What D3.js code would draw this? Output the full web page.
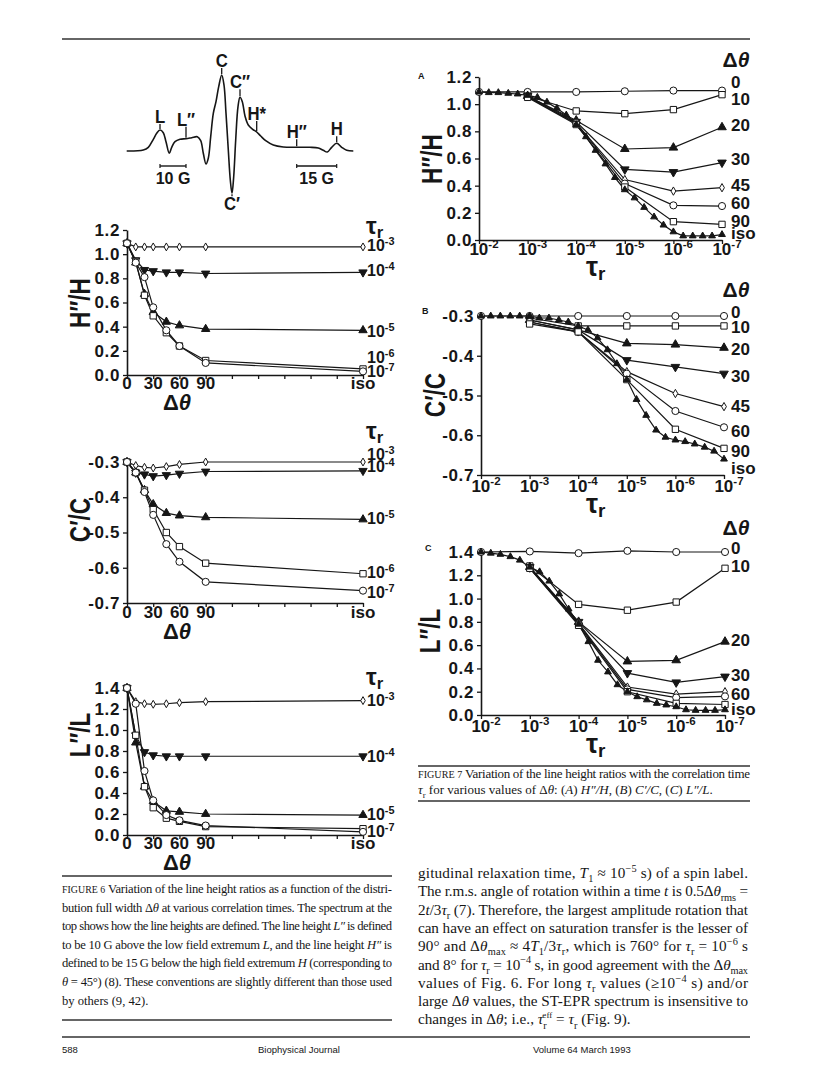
<!DOCTYPE html>
<html><head><meta charset="utf-8">
<script src="https://cdn.jsdelivr.net/npm/d3@7/dist/d3.min.js"></script>
<style>
html,body{margin:0;padding:0;background:#fff;}
svg{display:block;}
</style></head><body>
<svg id="page" width="816" height="1076" xmlns="http://www.w3.org/2000/svg"></svg>
<script>
// ================= DATA =================
// Spectrum (field in arbitrary G-like units, signal in arbitrary units)
const specField = [16.7,33.3,38.3,43.3,46.7,50,53.3,56,59.3,61.7,65,70,76,81.7,87.3,90.7,93.3,96,98.3,100.7,103.3,106,108.7,111.7,114,116,118.3,120.3,122,123.7,125.7,128,130,132.3,135,138.3,142.7,146.7,150.7,155.7,163.3,173.3,186.7,200,208.3,213.3,217.3,221.7,226.7,231.7,236.7,243.3];
const specSignal = [0,1,3.7,11.7,17.7,21,18.3,9.3,-2.3,3.7,9.3,11.7,12.3,13.3,14.3,10.3,-2.3,-13,-7.3,14.3,37.7,49.3,64.3,76,66,37.7,1,-29,-42.3,-25.7,11,44.3,53.7,49.3,35,26,21.7,19,15,10.3,6,4,3.7,3.7,3,0.7,-1,3.7,7.7,3.7,0.7,0];
const specLabels = ["L","L″","C","C″","H*","H″","H","C′"];
const specLabelField = [50,76,111.7,130,146.7,186.7,226.7,122];
const specBars = [["10 G",50,76],["15 G",186.7,226.7]];

// Figure 6: ratios vs distribution width
const f6Angles = [0,10,20,30,45,60,90,"iso"];
const f6AngleTicks = [0,30,60,90,120,150,180,210,240,270];
const f6AngleTickLabels = ["0","30","60","90","","","","","","iso"];
const f6TauExp = ["-3","-4","-5","-6","-7"];
const f6HH = [
  [1.09,1.06,1.06,1.06,1.06,1.06,1.06,1.06],
  [1.09,0.95,0.87,0.86,0.85,0.85,0.84,0.85],
  [1.09,0.93,0.67,0.52,0.44,0.41,0.38,0.37],
  [1.09,0.94,0.66,0.49,0.35,0.24,0.12,0.05],
  [1.09,0.93,0.81,0.56,0.37,0.24,0.10,0.03]
];
const f6CC = [
  [-0.30,-0.31,-0.315,-0.317,-0.313,-0.307,-0.30,-0.30],
  [-0.30,-0.33,-0.335,-0.34,-0.337,-0.333,-0.327,-0.325],
  [-0.30,-0.33,-0.38,-0.42,-0.445,-0.452,-0.457,-0.463],
  [-0.30,-0.33,-0.38,-0.435,-0.50,-0.54,-0.587,-0.617],
  [-0.30,-0.33,-0.385,-0.45,-0.533,-0.583,-0.64,-0.665]
];
const f6LL = [
  [1.40,1.27,1.25,1.245,1.25,1.26,1.27,1.28],
  [1.40,0.95,0.79,0.76,0.75,0.75,0.75,0.75],
  [1.40,0.88,0.46,0.32,0.23,0.22,0.20,0.19],
  [1.40,0.95,0.46,0.26,0.16,0.13,0.08,0.06],
  [1.40,1.25,0.61,0.33,0.19,0.14,0.09,0.03]
];
const f6YTicksHH = [0,0.2,0.4,0.6,0.8,1.0,1.2];
const f6YTicksCC = [-0.7,-0.6,-0.5,-0.4,-0.3];
const f6YTicksLL = [0,0.2,0.4,0.6,0.8,1.0,1.2,1.4];

// Figure 7: ratios vs correlation time
const f7Tau = [1e-2,1e-3,1e-4,1e-5,1e-6,1e-7];
const f7TauTickExp = ["-2","-3","-4","-5","-6","-7"];
const f7Delta = ["0","10","20","30","45","60","90","iso"];
const f7TauIso = [1e-2,6.3e-3,4e-3,2.5e-3,1.6e-3,1e-3,6.3e-4,4e-4,2.5e-4,1.6e-4,1e-4,6.3e-5,4e-5,2.5e-5,1.6e-5,1e-5,6.3e-6,4e-6,2.5e-6,1.6e-6,1e-6,6.3e-7,4e-7,2.5e-7,1.6e-7,1e-7];
const f7A = [
  [1.09,1.09,1.09,1.095,1.10,1.10],
  [null,1.06,0.95,0.93,0.96,1.07],
  [null,1.06,0.88,0.67,0.68,0.83],
  [null,1.06,0.87,0.52,0.50,0.57],
  [null,1.055,0.86,0.445,0.36,0.385],
  [null,1.055,0.86,0.415,0.255,0.25],
  [null,1.05,0.85,0.39,0.135,0.115]
];
const f7AIso = [1.09,1.085,1.085,1.08,1.075,1.065,1.05,1.015,0.97,0.92,0.85,0.76,0.66,0.56,0.46,0.37,0.31,0.24,0.17,0.11,0.06,0.03,0.03,0.03,0.03,0.04];
const f7B = [
  [-0.30,-0.30,-0.30,-0.30,-0.30,-0.30],
  [null,-0.305,-0.325,-0.325,-0.325,-0.325],
  [null,-0.31,-0.335,-0.369,-0.372,-0.38],
  [null,-0.31,-0.335,-0.411,-0.428,-0.445],
  [null,-0.315,-0.34,-0.44,-0.495,-0.528],
  [null,-0.315,-0.34,-0.445,-0.539,-0.58],
  [null,-0.32,-0.34,-0.46,-0.585,-0.633]
];
const f7BIso = [-0.30,-0.30,-0.30,-0.30,-0.30,-0.30,-0.305,-0.305,-0.31,-0.315,-0.325,-0.335,-0.355,-0.385,-0.42,-0.46,-0.51,-0.55,-0.587,-0.605,-0.612,-0.616,-0.622,-0.63,-0.64,-0.66];
const f7C = [
  [1.40,1.405,1.39,1.41,1.40,1.40],
  [null,1.28,0.95,0.90,0.97,1.26],
  [null,1.27,0.80,0.46,0.47,0.63],
  [null,1.27,0.80,0.36,0.28,0.33],
  [null,1.265,0.79,0.24,0.18,0.20],
  [null,1.26,0.78,0.22,0.15,0.16],
  [null,1.26,0.77,0.20,0.10,0.09]
];
const f7CIso = [1.40,1.39,1.38,1.36,1.33,1.27,1.23,1.15,1.04,0.91,0.78,0.63,0.47,0.37,0.26,0.20,0.157,0.13,0.10,0.086,0.071,0.045,0.04,0.04,0.04,0.045];
const f7YTicksA = [0,0.2,0.4,0.6,0.8,1.0,1.2];
const f7YTicksB = [-0.7,-0.6,-0.5,-0.4,-0.3];
const f7YTicksC = [0,0.2,0.4,0.6,0.8,1.0,1.2,1.4];

// Text
const cap6 = [
  [["FIGURE 6","sc"],["  Variation of the line height ratios as a function of the distri-"]],
  [["bution full width Δ"],["θ","i"],[" at various correlation times. The spectrum at the"]],
  [["top shows how the line heights are defined. The line height "],["L″","i"],[" is defined"]],
  [["to be 10 G above the low field extremum "],["L","i"],[", and the line height "],["H″","i"],[" is"]],
  [["defined to be 15 G below the high field extremum "],["H","i"],[" (corresponding to"]],
  [["θ","i"],[" = 45°) (8). These conventions are slightly different than those used"]],
  [["by others (9, 42)."]]
];
const cap7 = [
  [["FIGURE 7","sc"],["  Variation of the line height ratios with the correlation time"]],
  [["τ","i"],["r","sub"],[" for various values of Δ"],["θ","i"],[": ("],["A","i"],[") "],["H″/H","i"],[", ("],["B","i"],[") "],["C′/C","i"],[", ("],["C","i"],[") "],["L″/L","i"],["."]]
];
const body = [
  [["gitudinal relaxation time, "],["T","i"],["1","sub"],[" ≈ 10"],["−5","sup"],[" s) of a spin label."]],
  [["The r.m.s. angle of rotation within a time "],["t","i"],[" is 0.5Δ"],["θ","i"],["rms","sub"],[" ="]],
  [["2"],["t","i"],["/3"],["τ","i"],["r","sub"],[" (7). Therefore, the largest amplitude rotation that"]],
  [["can have an effect on saturation transfer is the lesser of"]],
  [["90° and Δ"],["θ","i"],["max","sub"],[" ≈ 4"],["T","i"],["1","sub"],["/3"],["τ","i"],["r","sub"],[", which is 760° for "],["τ","i"],["r","sub"],[" = 10"],["−6","sup"],[" s"]],
  [["and 8° for "],["τ","i"],["r","sub"],[" = 10"],["−4","sup"],[" s, in good agreement with the Δ"],["θ","i"],["max","sub"]],
  [["values of Fig. 6. For long "],["τ","i"],["r","sub"],[" values (≥10"],["−4","sup"],[" s) and/or"]],
  [["large Δ"],["θ","i"],[" values, the ST-EPR spectrum is insensitive to"]],
  [["changes in Δ"],["θ","i"],["; i.e., "],["τ","i"],["r","sub"],["eff","supb"],[" = "],["τ","i"],["r","sub"],[" (Fig. 9)."]]
];
const footer = [["588",62],["Biophysical Journal",258],["Volume 64   March 1993",533]];

// ================= LAYOUT / STYLE =================
const INK = "#161616";
const SANS = "'Liberation Sans', Arial, Helvetica, sans-serif";
const SERIF = "'Liberation Serif', 'Times New Roman', Times, serif";
const svg = d3.select("#page");

function rich(sel, segs, size) {
  let shift = 0;
  segs.forEach(([t, k]) => {
    const ts = sel.append("tspan").text(t);
    let target = 0, fs = size;
    if (k === "sub") { target = size * 0.28; fs = size * 0.68; }
    if (k === "sup") { target = -size * 0.4; fs = size * 0.68; }
    if (k === "supb") { target = -size * 0.4; fs = size * 0.6; ts.attr("dx", -size*0.28); }
    if (k === "sc") { fs = size * 0.78; ts.attr("letter-spacing", 0.3); }
    if (k === "i") ts.attr("font-style", "italic");
    ts.attr("font-size", fs);
    if (target !== shift) { ts.attr("dy", target - shift); shift = target; }
  });
}
function boldText(x, y, segs, size, anchor) {
  const t = svg.append("text").attr("x", x).attr("y", y)
    .attr("font-family", SANS).attr("font-weight", "bold").attr("fill", INK)
    .attr("font-size", size).attr("text-anchor", anchor || "start");
  rich(t, segs, size);
  return t;
}
function tauLabel(x, y, size, anchor) {
  const t = svg.append("text").attr("x", x).attr("y", y)
    .attr("font-family", SANS).attr("font-weight", "bold").attr("fill", INK)
    .attr("text-anchor", anchor || "start");
  t.append("tspan").attr("font-size", size).text("τ");
  t.append("tspan").attr("font-size", size * 0.7).attr("dy", size * 0.16).text("r");
}
function deltaTheta(x, y, size, anchor) {
  const t = svg.append("text").attr("x", x).attr("y", y)
    .attr("font-family", SANS).attr("font-weight", "bold").attr("fill", INK)
    .attr("font-size", size).attr("text-anchor", anchor || "middle");
  t.append("tspan").text("Δ");
  t.append("tspan").attr("font-style", "italic").text("θ");
}
function yTitle(cx, cy, label) {
  svg.append("text").attr("transform", `translate(${cx},${cy}) rotate(-90) scale(0.78,1)`)
    .attr("text-anchor", "middle").attr("dominant-baseline", "central")
    .attr("font-family", SANS).attr("font-weight", "bold").attr("font-size", 29).attr("fill", INK)
    .text(label);
}
const fmt1 = v => d3.format(".1f")(v).replace("−", "-");

const symType = {circle: d3.symbolCircle, square: d3.symbolSquare, up: d3.symbolTriangle, down: d3.symbolTriangle, diamond: d3.symbolDiamond};
function markers(g, pts, kind, filled, size) {
  g.selectAll(null).data(pts).join("path")
    .attr("d", d3.symbol(symType[kind], size)())
    .attr("transform", p => `translate(${p[0]},${p[1]})` + (kind === "down" ? " rotate(180)" : ""))
    .attr("fill", filled ? INK : "#fff").attr("stroke", INK).attr("stroke-width", 1);
}
function styleAxis(g, fs) {
  g.attr("font-family", SANS).attr("font-weight", "bold").attr("font-size", fs);
  g.select(".domain").attr("stroke", INK).attr("stroke-width", 1.6);
  g.selectAll(".tick line").attr("stroke", INK).attr("stroke-width", 1.3);
  g.selectAll(".tick text").attr("fill", INK);
}

// Rules
function rule(x1, x2, y, w) {
  svg.append("line").attr("x1", x1).attr("x2", x2).attr("y1", y).attr("y2", y)
    .attr("stroke", "#333").attr("stroke-width", w || 1.4);
}
rule(62, 750, 39, 1.4);

// ================= SPECTRUM =================
(function () {
  const xs = d3.scaleLinear().domain([0, 280]).range([110, 390]);
  const ys = d3.scaleLinear().domain([0, 100]).range([151, 51]);
  const pts = specField.map((f, i) => [f, specSignal[i]]);
  svg.append("path").attr("d", d3.line().x(d => xs(d[0])).y(d => ys(d[1])).curve(d3.curveCatmullRom.alpha(0.5))(pts))
    .attr("fill", "none").attr("stroke", INK).attr("stroke-width", 1.6);
  const interp = f => { const i = d3.bisectLeft(specField, f); if (i <= 0) return specSignal[0];
    const t = (f - specField[i-1]) / (specField[i] - specField[i-1]); return specSignal[i-1] + t * (specSignal[i] - specSignal[i-1]); };
  const tickLen = [5, 11, 6, 7, 10, 7, 6, 2];
  specLabels.forEach((lab, i) => {
    const x = xs(specLabelField[i]), yc = ys(interp(specLabelField[i]));
    const below = lab === "C′";
    const y1 = below ? yc + 1 : yc - 1, y2 = below ? yc + 1 + tickLen[i] : yc - 1 - tickLen[i];
    svg.append("line").attr("x1", x).attr("x2", x).attr("y1", y1).attr("y2", y2).attr("stroke", INK).attr("stroke-width", 1.3);
    svg.append("text").attr("x", x).attr("y", below ? y2 + 14 : y2 - 1)
      .attr("text-anchor", "middle").attr("font-family", SANS).attr("font-weight", "bold")
      .attr("font-size", 19).attr("fill", INK)
      .attr("transform", `translate(${x},0) scale(0.88,1) translate(${-x},0)`).text(lab);
  });
  specBars.forEach(([lab, a, b]) => {
    const y = 166;
    svg.append("line").attr("x1", xs(a)).attr("x2", xs(b)).attr("y1", y).attr("y2", y).attr("stroke", INK).attr("stroke-width", 1.4);
    [a, b].forEach(v => svg.append("line").attr("x1", xs(v)).attr("x2", xs(v)).attr("y1", y - 2).attr("y2", y + 2).attr("stroke", INK).attr("stroke-width", 1.2));
    svg.append("text").attr("x", (xs(a) + xs(b)) / 2).attr("y", 184).attr("text-anchor", "middle")
      .attr("font-family", SANS).attr("font-weight", "bold").attr("font-size", 16).attr("fill", INK).text(lab);
  });
})();

// ================= FIGURE 6 PANELS =================
const F6_X0 = 127, F6_X1 = 363, ISO_AT = 270;
const f6Marks = [["diamond", false, 18], ["down", true, 30], ["up", true, 30], ["square", false, 40], ["circle", false, 40]];
function fig6Panel(p) {
  const x = d3.scaleLinear().domain([0, ISO_AT]).range([F6_X0, F6_X1]);
  const y = d3.scaleLinear().domain(p.domain).range([p.yBottom, p.yTop]);
  const ax = v => x(v === "iso" ? ISO_AT : v);
  const gy = svg.append("g").attr("transform", `translate(${F6_X0},0)`)
    .call(d3.axisLeft(y).tickValues(p.ticks).tickSize(4).tickSizeOuter(0).tickPadding(3).tickFormat(fmt1));
  styleAxis(gy, 17);
  gy.selectAll(".tick text").attr("letter-spacing", 0.6);
  const gx = svg.append("g").attr("transform", `translate(0,${p.yBottom})`)
    .call(d3.axisBottom(x).tickValues(f6AngleTicks).tickSize(4).tickSizeOuter(0).tickFormat(""));
  styleAxis(gx, 17);
  f6AngleTicks.forEach((t, i) => {
    if (!f6AngleTickLabels[i]) return;
    svg.append("text").attr("x", x(t)).attr("y", p.yBottom + p.xLabDy).attr("text-anchor", "middle")
      .attr("font-family", SANS).attr("font-weight", "bold").attr("font-size", 17).attr("fill", INK)
      .text(f6AngleTickLabels[i]);
  });
  deltaTheta(177, p.yBottom + p.xLabDy + 21, 22);
  yTitle(80, p.titleY, p.title);
  const g = svg.append("g");
  p.data.forEach((vals, s) => {
    const pts = vals.map((v, i) => [ax(f6Angles[i]), y(v)]);
    g.append("path").attr("d", d3.line()(pts)).attr("fill", "none").attr("stroke", INK).attr("stroke-width", 1.2);
  });
  p.data.forEach((vals, s) => {
    const pts = vals.map((v, i) => [ax(f6Angles[i]), y(v)]);
    const [k, f, sz] = f6Marks[s];
    markers(g, pts, k, f, sz);
  });
  tauLabel(366, p.tauY, 24);
  p.labelY.forEach((ly, s) => {
    if (ly == null) return;
    boldText(367, ly + 6, [["10"], [f6TauExp[s], "sup"]], 16);
  });
}
fig6Panel({domain: [0, 1.2], yTop: 230, yBottom: 375, ticks: f6YTicksHH, data: f6HH, title: "H″/H", titleY: 303,
  xLabDy: 14, tauY: 234, labelY: [245, 270, 331, 357, 371]});
fig6Panel({domain: [-0.7, -0.3], yTop: 462, yBottom: 603, ticks: f6YTicksCC, data: f6CC, title: "C′/C", titleY: 520,
  xLabDy: 15, tauY: 439, labelY: [454, 466, 518, 572, 592]});
fig6Panel({domain: [0, 1.4], yTop: 688, yBottom: 835, ticks: f6YTicksLL, data: f6LL, title: "L″/L", titleY: 735,
  xLabDy: 14, tauY: 685, labelY: [700, 756, 814, null, 831]});

// ================= FIGURE 7 PANELS =================
const f7Marks = [["circle", false, 40], ["square", false, 40], ["up", true, 32], ["down", true, 32], ["diamond", false, 20], ["circle", false, 40], ["square", false, 40], ["up", true, 20]];
function fig7Panel(p) {
  const x = d3.scaleLog().domain([1e-2, 1e-7]).range([p.x0, p.x1]);
  const y = d3.scaleLinear().domain(p.domain).range([p.yBottom, p.yTop]);
  const gy = svg.append("g").attr("transform", `translate(${p.x0},0)`)
    .call(d3.axisLeft(y).tickValues(p.ticks).tickSize(4).tickSizeOuter(0).tickPadding(3).tickFormat(fmt1));
  styleAxis(gy, 17);
  gy.selectAll(".tick text").attr("letter-spacing", 0.6);
  const gx = svg.append("g").attr("transform", `translate(0,${p.yBottom})`)
    .call(d3.axisBottom(x).tickValues(f7Tau).tickSize(4).tickSizeOuter(0).tickFormat(""));
  styleAxis(gx, 17);
  f7Tau.forEach((t, i) => boldText(x(t) + 5, p.yBottom + p.xLabDy, [["10"], [f7TauTickExp[i], "sup"]], 17, "middle"));
  tauLabel(586, p.yBottom + p.tauDy, 27);
  yTitle(p.titleX, p.titleY, p.title);
  svg.append("text").attr("x", p.letter[0]).attr("y", p.letter[1]).attr("font-family", SANS)
    .attr("font-size", 9).attr("font-weight", "bold").attr("fill", INK).text(p.letter[2]);
  const g = svg.append("g");
  const line = d3.line().defined(d => d[1] != null).x(d => x(d[0])).y(d => y(d[1]));
  const series = p.data.map(vals => vals.map((v, i) => [f7Tau[i], v]));
  series.push(p.iso.map((v, i) => [f7TauIso[i], v]));
  series.forEach(s => g.append("path").attr("d", line(s)).attr("fill", "none").attr("stroke", INK).attr("stroke-width", 1.2));
  series.forEach((s, k) => {
    const pts = s.filter(d => d[1] != null).map(d => [x(d[0]), y(d[1])]);
    const [m, f, sz] = f7Marks[k];
    markers(g, pts, m, f, sz);
  });
  deltaTheta(736, p.headY, 21);
  p.labelY.forEach((ly, k) => {
    if (ly == null) return;
    svg.append("text").attr("x", 731).attr("y", ly + 6).attr("font-family", SANS).attr("font-weight", "bold")
      .attr("font-size", 17).attr("fill", INK).text(f7Delta[k]);
  });
}
fig7Panel({x0: 479, x1: 722, domain: [0, 1.2], yTop: 77, yBottom: 240, ticks: f7YTicksA, data: f7A, iso: f7AIso,
  xLabDy: 15, tauDy: 36, title: "H″/H", titleX: 432, titleY: 159, letter: [418, 79, "A"], headY: 67,
  labelY: [82, 99, 125, 159, 185, 203, 221, 233]});
fig7Panel({x0: 481, x1: 724, domain: [-0.7, -0.3], yTop: 316, yBottom: 475, ticks: f7YTicksB, data: f7B, iso: f7BIso,
  xLabDy: 17, tauDy: 38, title: "C′/C", titleX: 435, titleY: 395, letter: [422, 314, "B"], headY: 297,
  labelY: [312, 327, 349, 376, 406, 431, 451, 468]});
fig7Panel({x0: 481, x1: 725, domain: [0, 1.4], yTop: 552, yBottom: 715, ticks: f7YTicksC, data: f7C, iso: f7CIso,
  xLabDy: 17, tauDy: 38, title: "L″/L", titleX: 430, titleY: 631, letter: [425, 551, "C"], headY: 535,
  labelY: [548, 566, 640, 675, null, 694, null, 709]});

// ================= CAPTIONS & BODY TEXT =================
function para(lines, x, y0, lh, size, width, justifyLast) {
  lines.forEach((segs, i) => {
    const t = svg.append("text").attr("x", x).attr("y", y0 + i * lh)
      .attr("font-family", SERIF).attr("font-size", size).attr("fill", INK);
    rich(t, segs, size);
    if (i < lines.length - 1 || justifyLast) t.attr("textLength", width).attr("lengthAdjust", "spacing");
  });
}
rule(62, 392, 876, 1.4);
para(cap6, 62, 893, 18.6, 12.6, 330, false);
rule(62, 392, 1020, 1.4);

rule(418, 750, 766, 1.4);
para(cap7, 418, 778, 16, 13, 332, false);
rule(418, 750, 801, 1.4);

para(body, 418, 878, 18.3, 15.2, 330, false);

rule(62, 750, 1037, 1.4);
footer.forEach(([t, x]) => svg.append("text").attr("x", x).attr("y", 1053).attr("font-family", SANS)
  .attr("font-size", 9.5).attr("fill", INK).text(t));
</script></body></html>
